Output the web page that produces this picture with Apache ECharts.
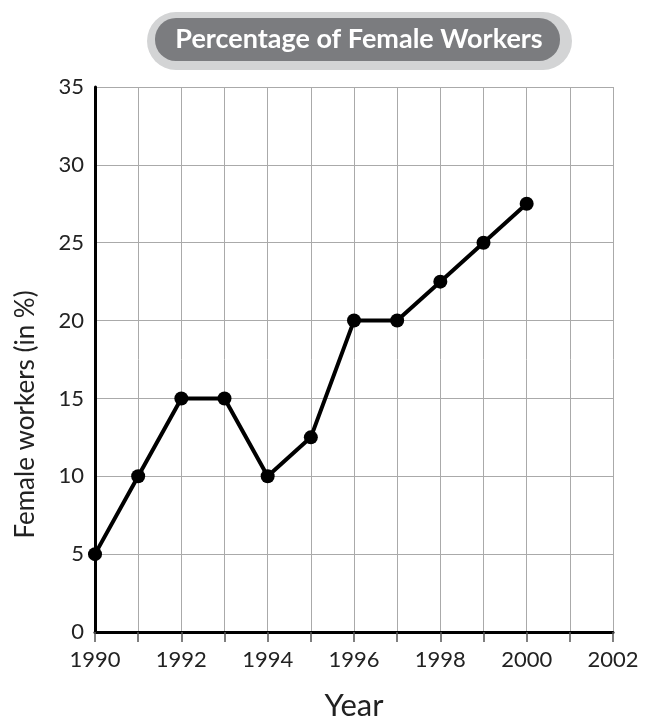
<!DOCTYPE html>
<html>
<head>
<meta charset="utf-8">
<script src="https://cdn.jsdelivr.net/npm/echarts@6/dist/echarts.min.js"></script>
<style>
  html, body { margin: 0; padding: 0; background: #fff; }
  #chart { width: 653px; height: 719px; }
</style>
</head>
<body>
<div id="chart"></div>
<script>
// values
var years = [1990, 1991, 1992, 1993, 1994, 1995, 1996, 1997, 1998, 1999, 2000];
var femalePct = [5, 10, 15, 15, 10, 12.5, 20, 20, 22.5, 25, 27.5];
var titleText = "Percentage of Female Workers";

var font = "Lato, 'Open Sans', sans-serif";
var chart = echarts.init(document.getElementById("chart"));

chart.setOption({
    animation: false,
    grid: { left: 95, right: 40, top: 87, bottom: 87, containLabel: false, outerBoundsMode: "none" },
    graphic: [
        {
            type: "rect",
            shape: { x: 147, y: 12, width: 425, height: 58, r: 29 },
            style: { fill: "#d3d4d5" }
        },
        {
            type: "rect",
            shape: { x: 155, y: 18, width: 405, height: 43, r: 21 },
            style: { fill: "#7b7c7f" }
        },
        {
            type: "text",
            x: 359, y: 39,
            style: {
                text: titleText,
                fill: "#fff",
                font: "bold 27px " + font,
                align: "center",
                verticalAlign: "middle"
            }
        }
    ],
    xAxis: {
        type: "value",
        min: 1990, max: 2002, interval: 1,
        name: "Year",
        nameLocation: "middle",
        nameGap: 58,
        nameTextStyle: { fontSize: 31, color: "#222", fontFamily: font },
        axisLine: { lineStyle: { color: "#000", width: 3 } },
        axisTick: { show: true, length: 10, lineStyle: { color: "#555", width: 1.5 } },
        axisLabel: {
            fontSize: 22, color: "#222", fontFamily: font, margin: 17,
            formatter: function (v) { return v % 2 === 0 ? String(v) : ""; }
        },
        splitLine: { show: true, lineStyle: { color: "#aaa", width: 1 } }
    },
    yAxis: {
        type: "value",
        min: 0, max: 35, interval: 5,
        name: "Female workers (in %)",
        nameLocation: "middle",
        nameGap: 56,
        nameTextStyle: { fontSize: 26, color: "#222", fontFamily: font, padding: [0, 110, 0, 0] },
        axisLine: { show: true, lineStyle: { color: "#000", width: 3 } },
        axisTick: { show: false },
        axisLabel: { fontSize: 22, color: "#222", fontFamily: font, margin: 11 },
        splitLine: { show: true, lineStyle: { color: "#aaa", width: 1 } }
    },
    series: [{
        type: "line",
        data: years.map(function (y, i) { return [y, femalePct[i]]; }),
        symbol: "circle",
        symbolSize: 14,
        itemStyle: { color: "#000" },
        lineStyle: { color: "#000", width: 4 }
    }]
});
</script>
</body>
</html>
